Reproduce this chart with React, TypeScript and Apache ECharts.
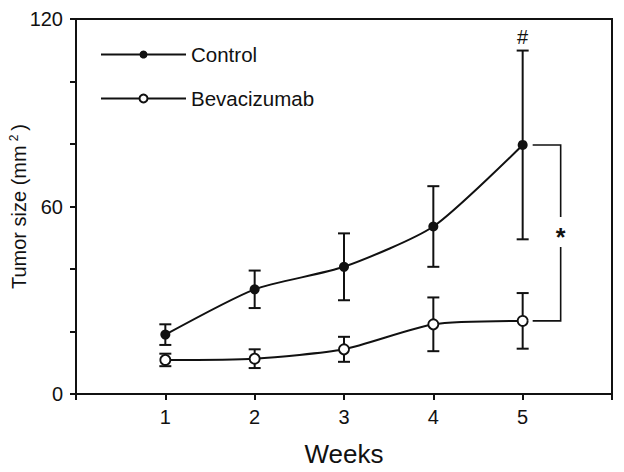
import React, { useEffect, useRef } from "react";
import * as echarts from "echarts";

const weeks = [1, 2, 3, 4, 5];
const controlMean = [19, 33.5, 40.7, 53.6, 79.7];
const controlErr = [3.3, 6, 10.7, 12.9, 30.2];
const bevMean = [10.9, 11.3, 14.3, 22.3, 23.4];
const bevErr = [2, 3, 4, 8.6, 8.9];
const yLabeled = [0, 60, 120];
const xLabeled = [1, 2, 3, 4, 5];

const INK = "#111111";
const FONT = "Liberation Sans, Arial, sans-serif";

export default function App() {
  const ref = useRef<HTMLDivElement>(null);
  useEffect(() => {
    if (!ref.current) return;
    const chart = echarts.init(ref.current, null, { renderer: "svg" });

    const errData = (means: number[], errs: number[]) =>
      weeks.map((w, i) => [w, means[i] - errs[i], means[i] + errs[i]]);

    const errRender = (params: any, api: any) => {
      const x = api.value(0);
      const pLo = api.coord([x, api.value(1)]);
      const pHi = api.coord([x, api.value(2)]);
      const hw = 6;
      const st = { stroke: INK, lineWidth: 2 };
      return {
        type: "group",
        children: [
          { type: "line", shape: { x1: pLo[0], y1: pLo[1], x2: pHi[0], y2: pHi[1] }, style: st },
          { type: "line", shape: { x1: pLo[0] - hw, y1: pLo[1], x2: pLo[0] + hw, y2: pLo[1] }, style: st },
          { type: "line", shape: { x1: pHi[0] - hw, y1: pHi[1], x2: pHi[0] + hw, y2: pHi[1] }, style: st },
        ],
      };
    };

    const last = weeks.length - 1;
    const annotData = [[weeks[last], controlMean[last], bevMean[last], controlMean[last] + controlErr[last]]];

    const annotRender = (params: any, api: any) => {
      const x = api.value(0);
      const pc = api.coord([x, api.value(1)]);
      const pb = api.coord([x, api.value(2)]);
      const pt = api.coord([x, api.value(3)]);
      const x0 = pc[0] + 10;
      const x1 = pc[0] + 38;
      const mid = (pc[1] + pb[1]) / 2;
      const st = { stroke: INK, lineWidth: 1.6, fill: null };
      return {
        type: "group",
        children: [
          { type: "polyline", shape: { points: [[x0, pc[1]], [x1, pc[1]], [x1, mid - 16]] }, style: st },
          { type: "polyline", shape: { points: [[x1, mid + 14], [x1, pb[1]], [x0, pb[1]]] }, style: st },
          {
            type: "text",
            style: { text: "*", x: x1, y: mid + 4, align: "center", verticalAlign: "middle", fill: INK, font: "bold 25px " + FONT },
          },
          {
            type: "text",
            style: { text: "#", x: pt[0], y: pt[1] - 14, align: "center", verticalAlign: "middle", fill: INK, font: "20px " + FONT },
          },
        ],
      };
    };

    chart.setOption({
      animation: false,
      backgroundColor: "#fff",
      textStyle: { fontFamily: FONT, color: INK },
      grid: {
        left: 76,
        top: 19,
        right: 12,
        bottom: 78,
        containLabel: false,
        outerBoundsMode: "none",
        show: true,
        borderColor: INK,
        borderWidth: 2,
      },
      legend: {
        data: ["Control", "Bevacizumab"],
        orient: "vertical",
        left: 95,
        top: 39,
        itemWidth: 85,
        itemHeight: 10,
        itemGap: 23,
        textStyle: { fontSize: 20.5, color: INK, fontFamily: FONT },
      },
      xAxis: {
        type: "value",
        min: 0,
        max: 6,
        interval: 1,
        name: "Weeks",
        nameLocation: "middle",
        nameGap: 47,
        nameMoveOverlap: false,
        nameTextStyle: { fontSize: 26, color: INK, fontFamily: FONT },
        splitLine: { show: false },
        axisLine: { onZero: false, lineStyle: { color: INK, width: 2 } },
        axisTick: { show: true, length: 6, lineStyle: { color: INK, width: 2 } },
        axisLabel: {
          fontSize: 20,
          color: INK,
          margin: 13,
          formatter: (v: number) => (xLabeled.includes(v) ? String(v) : ""),
        },
      },
      yAxis: {
        type: "value",
        min: 0,
        max: 120,
        interval: 20,
        name: "{a|Tumor size (mm}{s|2}{a|)}",
        nameLocation: "middle",
        nameGap: 47,
        nameMoveOverlap: false,
        nameRotate: 90,
        nameTextStyle: {
          fontSize: 20,
          color: INK,
          fontFamily: FONT,
          rich: {
            a: { fontSize: 20, color: INK, fontFamily: FONT },
            s: { fontSize: 12, color: INK, fontFamily: FONT, padding: [0, 4, 9, 4] },
          },
        },
        splitLine: { show: false },
        axisLine: { show: true, onZero: false, lineStyle: { color: INK, width: 2 } },
        axisTick: { show: true, length: 6, lineStyle: { color: INK, width: 2 } },
        axisLabel: {
          fontSize: 20,
          color: INK,
          margin: 13,
          formatter: (v: number) => (yLabeled.includes(v) ? String(v) : ""),
        },
      },
      series: [
        {
          name: "ctrlErr",
          type: "custom",
          renderItem: errRender,
          encode: { x: 0, y: [1, 2] },
          data: errData(controlMean, controlErr),
          z: 1,
        },
        {
          name: "bevErr",
          type: "custom",
          renderItem: errRender,
          encode: { x: 0, y: [1, 2] },
          data: errData(bevMean, bevErr),
          z: 1,
        },
        {
          name: "Control",
          type: "line",
          data: weeks.map((w, i) => [w, controlMean[i]]),
          smooth: 0.22,
          symbol: "circle",
          symbolSize: 10,
          itemStyle: { color: INK },
          lineStyle: { color: INK, width: 2 },
          z: 3,
        },
        {
          name: "Bevacizumab",
          type: "line",
          data: weeks.map((w, i) => [w, bevMean[i]]),
          smooth: 0.22,
          symbol: "circle",
          symbolSize: 10,
          itemStyle: { color: "#fff", borderColor: INK, borderWidth: 1.8 },
          lineStyle: { color: INK, width: 2 },
          z: 3,
        },
        {
          name: "annot",
          type: "custom",
          renderItem: annotRender,
          encode: { x: 0, y: [1, 2, 3] },
          data: annotData,
          z: 2,
        },
      ],
    });
    return () => chart.dispose();
  }, []);
  return <div ref={ref} style={{ position: "fixed", left: 0, top: 0, width: 624, height: 472 }} />;
}
